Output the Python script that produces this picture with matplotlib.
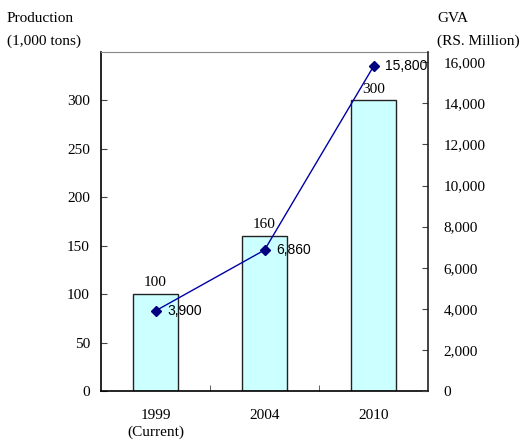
import matplotlib.pyplot as plt
import numpy as np

# data
years = ["1999\n(Current)", "2004", "2010"]
production = [100, 160, 300]          # 1,000 tons (bars, left axis)
gva = [3900, 6860, 15800]             # RS. Million (line, right axis)
left_ticks = [0, 50, 100, 150, 200, 250, 300]
right_ticks = [0, 2000, 4000, 6000, 8000, 10000, 12000, 14000, 16000]

serif = "Liberation Serif"
sans = "Liberation Sans"

fig = plt.figure(figsize=(5.19, 4.43), dpi=100)
ax = fig.add_axes([101 / 519, 52 / 443, 327 / 519, 339 / 443])
x = np.arange(len(years))

ax.bar(x, production, width=0.41, color="#CCFFFF", edgecolor="#222222", linewidth=1.0, zorder=2)
for xi, v in zip(x, production):
    ax.text(xi, v + 5, str(v), ha="center", va="bottom", fontsize=11, family=serif)

ax.set_xlim(-0.5, len(years) - 0.5)
ax.set_ylim(0, 350)
ax.set_yticks(left_ticks)
ax.set_yticklabels([str(t) for t in left_ticks], family=serif, fontsize=11)
ax.set_xticks(x)
ax.set_xticklabels(years, family=serif, fontsize=11, linespacing=1.3)
ax.tick_params(axis="x", length=0, pad=13)
ax.set_xticks([0.5, 1.5], minor=True)
ax.tick_params(axis="x", which="minor", direction="in", length=4, color="#444444")
ax.tick_params(axis="y", direction="in", length=4, pad=8, color="#444444")
ax.spines["top"].set_color("#888888")
ax.spines["left"].set_linewidth(1.2)
ax.spines["bottom"].set_linewidth(1.2)
ax.spines["right"].set_visible(False)

ax2 = ax.twinx()
ax2.plot(x, gva, color="#0000A8", linewidth=1.0, marker="D", markersize=5,
         markerfacecolor="#000080", markeredgecolor="#000080", zorder=3)
for xi, v in zip(x, gva):
    ax2.text(xi + 0.11, v, f"{v:,}", ha="left", va="center", fontsize=10, family=sans)
ax2.set_ylim(0, 16500)
ax2.set_yticks(right_ticks)
ax2.set_yticklabels([f"{t:,}" for t in right_ticks], family=serif, fontsize=11)
ax2.tick_params(axis="y", direction="in", length=4, pad=11, color="#444444")
ax2.spines["right"].set_linewidth(1.2)
ax2.spines["right"].set_color("#222222")
for s in ["top", "left", "bottom"]:
    ax2.spines[s].set_visible(False)

fig.text(7 / 519, 1 - 18 / 443, "Production", family=serif, fontsize=11, va="center")
fig.text(7 / 519, 1 - 41 / 443, "(1,000 tons)", family=serif, fontsize=11, va="center")
fig.text(437 / 519, 1 - 18 / 443, "GVA", family=serif, fontsize=11, va="center")
fig.text(437 / 519, 1 - 41 / 443, "(RS. Million)", family=serif, fontsize=11, va="center")

fig.savefig("out.png", dpi=100)
